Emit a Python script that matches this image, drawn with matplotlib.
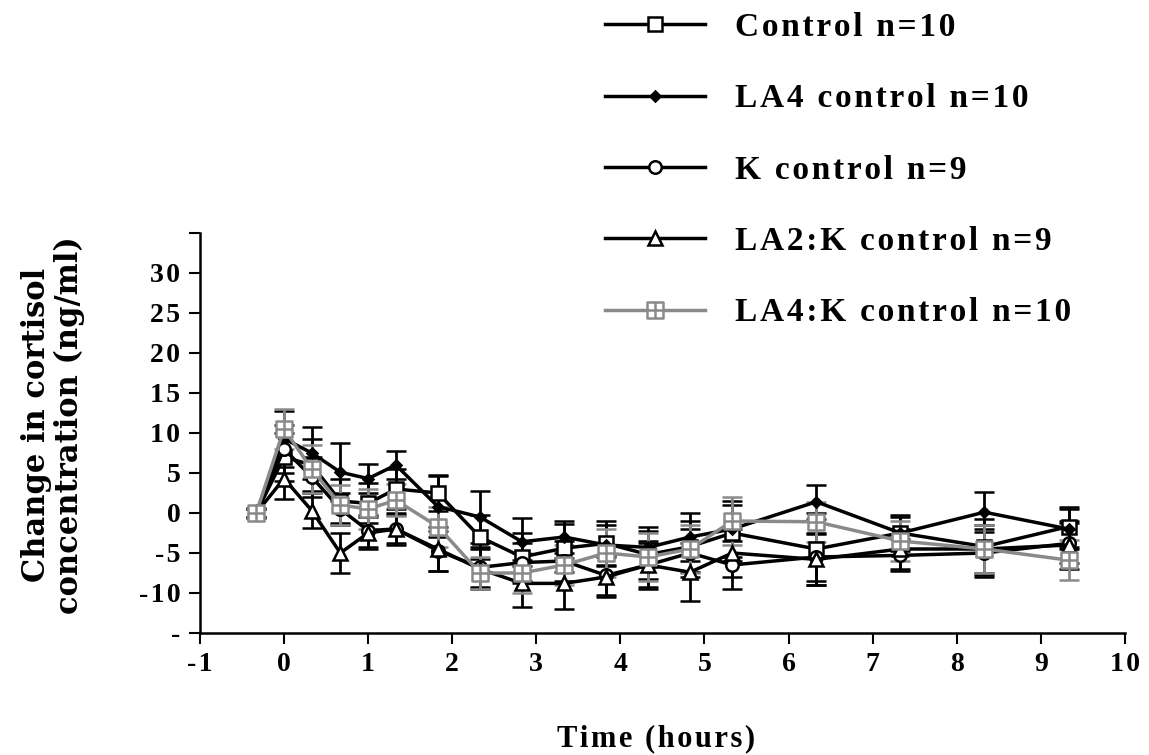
import matplotlib
matplotlib.use("Agg")
import matplotlib.pyplot as plt
from matplotlib.path import Path

# sampling times (hours)
times = [-0.33, 0, 0.33, 0.67, 1.0, 1.33, 1.83, 2.33, 2.83, 3.33, 3.83, 4.33, 4.83, 5.33, 6.33, 7.33, 8.33, 9.33]

control = [0, 7, 6, 1.5, 1.2, 3, 2.5, -3, -5.5, -4.4, -3.8, -5.2, -4.2, -2.5, -4.5, -2.5, -4.2, -1.7]
control_err = [0.6, 3, 3.2, 2.8, 2.5, 2.5, 2.3, 2.8, 3, 3, 2.8, 3, 3.2, 3.5, 4.5, 2.2, 3.5, 2.5]

la4 = [0, 9.3, 7.5, 5.1, 4.3, 6, 0.8, -0.5, -3.6, -3.0, -4, -4.3, -3, -2, 1.4, -2.5, 0.1, -2]
la4_err = [0.5, 3.5, 3.3, 3.6, 1.8, 1.8, 3.8, 3.2, 3, 2, 2.5, 2.5, 3, 3.5, 2.1, 2, 2.5, 2.5]

k_ctrl = [0, 8, 4.5, 0.5, -2.2, -2, -4.7, -6.8, -6.2, -6, -7.8, -6.5, -5, -6.5, -5.5, -5.3, -5, -3.8]
k_err = [0.5, 3, 2.5, 2, 2, 2, 2.5, 2.5, 2.5, 2.5, 2.5, 2.8, 3, 3, 3, 2, 3, 2.5]

la2k = [0, 4.3, 0.3, -5, -2.5, -2, -4.5, -7, -8.8, -8.8, -8, -6.5, -7.4, -5, -5.8, -4.5, -4.5, -4]
la2k_err = [0.5, 2.5, 2.2, 2.5, 2, 1.8, 2.8, 2.5, 2.9, 3.2, 2.5, 3, 3.6, 3, 3.2, 2.5, 3, 3]

la4k = [0, 10.5, 5.5, 1, 0.5, 1.6, -1.7, -7.5, -7.5, -6.5, -5, -5.5, -4.5, -1, -1.1, -3.5, -4.5, -5.9]
la4k_err = [0.5, 2.5, 3, 2.5, 2.5, 2, 2.5, 2, 2.5, 2.5, 3, 3, 3, 3, 2.5, 2.5, 3, 2.5]

labels = ['Control n=10', 'LA4 control n=10', 'K control n=9',
          'LA2:K control n=9', 'LA4:K control n=10']

ytick_vals = [-15, -10, -5, 0, 5, 10, 15, 20, 25, 30, 35]
ytick_labels = ['-', '-10', '-5', '0', '5', '10', '15', '20', '25', '30', '']
xtick_vals = list(range(-1, 11))

# square with a cross inside
cross_sq = Path([(-1, -1), (1, -1), (1, 1), (-1, 1), (-1, -1),
                 (0, -1), (0, 1), (-1, 0), (1, 0)],
                [Path.MOVETO, Path.LINETO, Path.LINETO, Path.LINETO, Path.CLOSEPOLY,
                 Path.MOVETO, Path.LINETO, Path.MOVETO, Path.LINETO])

serif = ['Liberation Serif', 'DejaVu Serif']


def spaced(s):
    # the original typesetting is letter-spaced
    return '\u200a'.join(s)


fig = plt.figure(figsize=(11.49, 7.55), dpi=100)
ax = fig.add_axes([0.174, 0.1616, 0.805, 0.5298])

series = [
    (control, control_err, 's', 10, 'white', 'black'),
    (la4, la4_err, 'D', 5, 'black', 'black'),
    (k_ctrl, k_err, 'o', 9, 'white', 'black'),
    (la2k, la2k_err, '^', 10, 'white', 'black'),
    (la4k, la4k_err, cross_sq, 11, 'white', '#8a8a8a'),
]

handles = []
for (vals, errs, mk, ms, face, col), lab in zip(series, labels):
    c = ax.errorbar(times, vals, yerr=errs, color=col, lw=2.5, marker=mk, ms=ms,
                    mfc=face, mec=col, mew=1.8, ecolor=col, elinewidth=2,
                    capsize=7, capthick=2.5, label=lab)
    handles.append(c[0])

ax.set_xlim(-1, 10)
ax.set_ylim(-15, 35)
ax.set_xticks(xtick_vals)
ax.set_yticks(ytick_vals)
ax.tick_params(direction='out', width=1.5, length=8, pad=6, labelsize=20)
ax.set_xticklabels([spaced(str(v)) for v in xtick_vals], fontfamily=serif,
                   fontweight='bold', fontsize=20)
ax.set_yticklabels([spaced(t) for t in ytick_labels], fontfamily=serif,
                   fontweight='bold', fontsize=20)
for s in ['top', 'right']:
    ax.spines[s].set_visible(False)
for s in ['left', 'bottom']:
    ax.spines[s].set_linewidth(1.8)

fig.text(0.571, 0.003, spaced('Time (hours)'), ha='center', va='bottom',
         fontfamily=serif, fontweight='bold', fontsize=22)
fig.text(0.046, 0.437, 'Change in cortisol\nconcentration (ng/ml)', rotation=90,
         ha='center', va='center', fontfamily='DejaVu Serif', fontweight='bold',
         fontsize=22, linespacing=1.1)

fig.legend(handles=handles, labels=[spaced(l) for l in labels], loc='upper left',
           bbox_to_anchor=(0.5265, 0.984), frameon=False, numpoints=1,
           handlelength=3.0, handletextpad=0.9, labelspacing=1.21,
           borderpad=0, borderaxespad=0,
           prop={'family': serif, 'weight': 'bold', 'size': 24})

fig.savefig('out.png', dpi=100)
